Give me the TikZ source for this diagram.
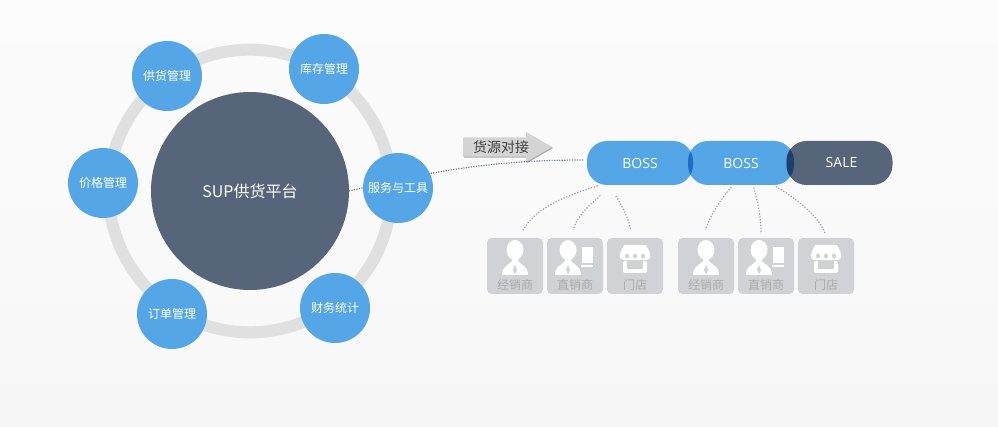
\documentclass[tikz,border=0pt]{standalone}
\usepackage{fontspec}
\setmainfont{Open Sans}
\newfontfamily\cjk{Noto Sans CJK SC}
\usetikzlibrary{shapes.arrows,shadows}
\definecolor{skyblue}{HTML}{55A6E6}
\definecolor{slate}{HTML}{566579}
\definecolor{ringgrey}{HTML}{E0E0E0}
\definecolor{tilegrey}{HTML}{D0D2D6}
\definecolor{taggrey}{HTML}{ABABAB}
\definecolor{lensblue}{HTML}{1F6BC9}
\definecolor{lensnavy}{HTML}{1C3F6E}
\definecolor{pagetop}{HTML}{FDFCFD}
\definecolor{pagebottom}{HTML}{F7F7F8}
\tikzset{
  every picture/.style={line width=0.75pt},
  ringshape/.style={circle,draw=ringgrey,line width=9pt,minimum size=212pt,inner sep=0pt,outer sep=0pt},
  hubshape/.style={circle,fill=slate,text=white,minimum size=148.5pt,inner sep=0pt,outer sep=0pt,font=\cjk\fontsize{12}{14}\selectfont},
  satshape/.style={circle,fill=skyblue,text=white,minimum size=52.5pt,inner sep=0pt,outer sep=0pt,font=\cjk\fontsize{9}{11}\selectfont},
  pillshape/.style={rectangle,rounded corners=15pt,text=white,minimum width=79.5pt,minimum height=33pt,inner sep=0pt,outer sep=0pt,font=\fontsize{10.5}{12}\selectfont},
  tileshape/.style={rectangle,rounded corners=3.5pt,fill=tilegrey,minimum size=42pt,inner sep=0pt,outer sep=0pt},
  tagtext/.style={text=taggrey,inner sep=0pt,font=\cjk\fontsize{9}{11}\selectfont},
  hublink/.style={draw=slate!85,line width=0.9pt,dash pattern=on 0.9pt off 1pt},
  tilelink/.style={draw=black!38,line width=0.9pt,dash pattern=on 0.9pt off 1.3pt,shorten <=2pt,shorten >=6.5pt},
  arrowshape/.style={single arrow,single arrow head extend=3.75pt,single arrow tip angle=60,shape border rotate=0,
    fill=black!17,text=black!75,minimum height=66.75pt,minimum width=22.5pt,inner sep=1.5pt,outer sep=0pt,
    copy shadow={shadow xshift=0.75pt,shadow yshift=-0.75pt,fill=black!32,draw=none},font=\cjk\fontsize{10.5}{12}\selectfont},
}
\newcommand{\personicon}[1]{\begin{scope}[shift={(#1)}]
  \fill[white] (0,-16) ellipse (8.5 and 10);
  \fill[white] (-13,9) .. controls (-13,0) and (-6,-1) .. (-3,-5) -- (-3,-8) -- (3,-8) -- (3,-5) .. controls (6,-1) and (13,0) .. (13,9) -- cycle;
  \fill[tilegrey] (0,-1) -- (2,4) -- (0,8) -- (-2,4) -- cycle;
\end{scope}}
\newcommand{\deskicon}[1]{\begin{scope}[shift={(#1)}]
  \fill[white] (7,-19) rectangle (18,-3);
  \fill[white] (6,-1) rectangle (18,1);
  \personicon{-7,0}
\end{scope}}
\newcommand{\shopicon}[1]{\begin{scope}[shift={(#1)}]
  \fill[white] (-11,-21) -- (11,-21) -- (15,-13) -- (-15,-13) -- cycle;
  \fill[white,rounded corners=3pt] (-15.5,-14) rectangle (15.5,-6);
  \fill[tilegrey] (-8,-10) ellipse (2 and 2.5);
  \fill[tilegrey] (0,-10) ellipse (2 and 2.5);
  \fill[tilegrey] (8,-10) ellipse (2 and 2.5);
  \fill[white,rounded corners=1.5pt] (-12,-5) -- (12,-5) -- (12,7) -- (-12,7) -- cycle;
  \fill[tilegrey] (-8,-5) rectangle (8,3);
\end{scope}}

\begin{document}
\begin{tikzpicture}[x=0.75pt,y=0.75pt,yscale=-1,xscale=1]
\useasboundingbox (0,0) rectangle (998,427);

% Background
\fill[top color=pagetop,bottom color=pagebottom] (0,0) rectangle (998,427);

% Circles
\node[ringshape] (ring) at (250,191) {};
\node[hubshape] (hub) at (250,191) {SUP供货平台};

% Dotted line to the first pill
\node[arrowshape,anchor=tip] (supply) at (552,147) {\hspace{3pt}货源对接};
\path (584,160) coordinate (bossAwest);
\draw[hublink] (hub.east) .. controls (430,172) and (490,160) .. (bossAwest);

\node[satshape] (stock) at (324,69) {库存管理};
\node[satshape] (offer) at (167,76) {供货管理};
\node[satshape] (price) at (103,183) {价格管理};
\node[satshape] (order) at (172,314) {订单管理};
\node[satshape] (money) at (335,308) {财务统计};
\node[satshape] (tools) at (398,188) {服务与工具};

% Pills
\node[pillshape,fill=skyblue] (bossA) at (640,163) {\raisebox{-0.75pt}{BOSS}};
\node[pillshape,fill=skyblue] (bossB) at (741,163) {\raisebox{-0.75pt}{BOSS}};
\node[pillshape,fill=slate] (sale) at (839.5,163) {\hspace{3pt}\raisebox{-0.75pt}{SALE}};
\begin{scope}
\clip[rounded corners=15pt] (bossA.south west) rectangle (bossA.north east);
\fill[lensblue,rounded corners=15pt] (bossB.south west) rectangle (bossB.north east);
\end{scope}
\begin{scope}
\clip[rounded corners=15pt] (bossB.south west) rectangle (bossB.north east);
\fill[lensnavy,rounded corners=15pt] (sale.south west) rectangle (sale.north east);
\end{scope}

% Tiles
\node[tileshape] (tileA) at (515,266) {};
\node[tileshape] (tileB) at (575,266) {};
\node[tileshape] (tileC) at (635,266) {};
\node[tileshape] (tileD) at (706,266) {};
\node[tileshape] (tileE) at (766,266) {};
\node[tileshape] (tileF) at (826,266) {};

\personicon{tileA}
\deskicon{tileB}
\shopicon{tileC}
\personicon{tileD}
\deskicon{tileE}
\shopicon{tileF}

\node[tagtext] (tagA) at (515,285) {经销商};
\node[tagtext] (tagB) at (575,285) {直销商};
\node[tagtext] (tagC) at (635,285) {门店};
\node[tagtext] (tagD) at (706,285) {经销商};
\node[tagtext] (tagE) at (766,285) {直销商};
\node[tagtext] (tagF) at (826,285) {门店};

% Dotted links
\draw[tilelink] (bossA.209) .. controls (565,196) and (535,208) .. (tileA.82);
\draw[tilelink,shorten <=9.5pt] (bossA.214) .. controls (597,200) and (578,212) .. (tileB.98);
\draw[tilelink,shorten <=9.5pt] (bossA.216) .. controls (617,198) and (628,215) .. (tileC.96);
\draw[tilelink] (bossB.250) .. controls (722,198) and (710,215) .. (tileD.96);
\draw[tilelink,shorten >=3pt] (bossB.-61) .. controls (757,200) and (761,215) .. (tileE.100);
\draw[tilelink,shorten >=3.75pt] (bossB.-34.5) .. controls (795,198) and (818,215) .. (tileF.88);
\end{tikzpicture}
\end{document}
